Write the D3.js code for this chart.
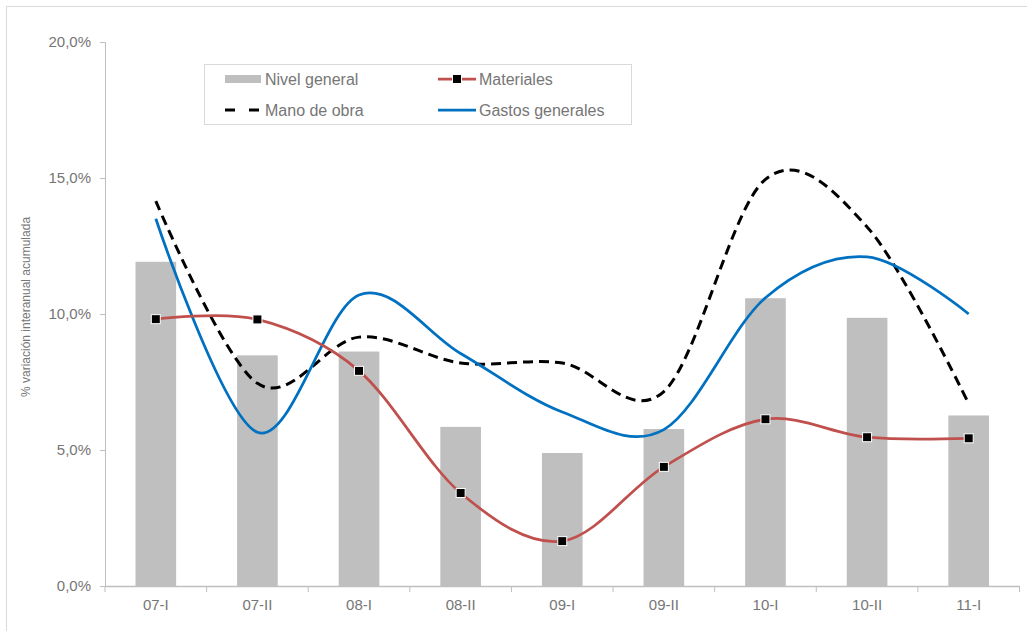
<!DOCTYPE html>
<html>
<head>
<meta charset="utf-8">
<script src="https://cdn.jsdelivr.net/npm/d3@7"></script>
<style>
  html, body { margin: 0; padding: 0; background: #fff; }
  svg { display: block; font-family: "Liberation Sans", Arial, sans-serif; }
</style>
</head>
<body>
<svg id="chart" width="1027" height="631"></svg>
<script>
const categories = ["07-I", "07-II", "08-I", "08-II", "09-I", "09-II", "10-I", "10-II", "11-I"];
const nivelGeneral = [11.92, 8.48, 8.62, 5.85, 4.89, 5.77, 10.58, 9.86, 6.27];
const materiales = [9.81, 9.80, 7.91, 3.42, 1.65, 4.38, 6.13, 5.47, 5.43];
const manoDeObra = [14.15, 7.45, 9.15, 8.2, 8.2, 7.15, 14.95, 13.2, 6.7];
const gastosGenerales = [13.5, 5.65, 10.7, 8.55, 6.4, 5.75, 10.6, 12.1, 10.0];
const yTicks = [0, 5, 10, 15, 20];
const yTitle = "% variación interanual acumulada";
const legendLabels = ["Nivel general", "Materiales", "Mano de obra", "Gastos generales"];

const svg = d3.select("#chart");
const M = { left: 105, right: 1019.5, top: 42, bottom: 586 };
const axisColor = "#bfbfbf";
const textColor = "#767676";

// chart frame (only top/left visible)
svg.append("rect").attr("x", 6.5).attr("y", 6.5).attr("width", 1040).attr("height", 640)
  .attr("fill", "none").attr("stroke", "#d9d9d9").attr("stroke-width", 1);

const x = d3.scaleBand().domain(categories).range([M.left, M.right]).padding(0);
const y = d3.scaleLinear().domain([0, 20]).range([M.bottom, M.top]);
const cx = c => x(c) + x.bandwidth() / 2;

// y axis
const yAxis = d3.axisLeft(y).tickValues(yTicks).tickSize(5).tickPadding(9)
  .tickFormat(d => d3.format(".1f")(d).replace(".", ",") + "%");
const gy = svg.append("g").attr("transform", `translate(${M.left},0)`).call(yAxis);
gy.select(".domain").attr("stroke", axisColor);
gy.selectAll(".tick line").attr("stroke", axisColor);
gy.selectAll(".tick text").attr("fill", textColor).attr("font-size", 15);

// bars
const barW = x.bandwidth() * 0.4;
svg.append("g").selectAll("rect").data(categories).join("rect")
  .attr("x", (c) => cx(c) - barW / 2)
  .attr("y", (c, i) => y(nivelGeneral[i]))
  .attr("width", barW)
  .attr("height", (c, i) => y(0) - y(nivelGeneral[i]))
  .attr("fill", "#bfbfbf");

// x axis
const xAxis = d3.axisBottom(x).tickSize(0).tickPadding(13);
const gx = svg.append("g").attr("transform", `translate(0,${M.bottom})`).call(xAxis);
gx.select(".domain").attr("stroke", axisColor).attr("stroke-width", 1.5);
gx.selectAll(".tick text").attr("fill", textColor).attr("font-size", 15);
// category boundary ticks
const bounds = categories.map(c => x(c)).concat([M.right]);
gx.selectAll(".bt").data(bounds).join("line").attr("class", "bt")
  .attr("x1", d => d).attr("x2", d => d).attr("y1", 0).attr("y2", 6)
  .attr("stroke", axisColor);

// y title
svg.append("text")
  .attr("transform", `translate(29.5,307) rotate(-90)`)
  .attr("text-anchor", "middle").attr("fill", textColor).attr("font-size", 12)
  .text(yTitle);

const line = d3.line().curve(d3.curveCardinal.tension(0))
  .x((d, i) => cx(categories[i])).y(d => y(d));

svg.append("path").datum(manoDeObra).attr("d", line)
  .attr("fill", "none").attr("stroke", "#000").attr("stroke-width", 3).attr("stroke-dasharray", "10,6");
svg.append("path").datum(gastosGenerales).attr("d", line)
  .attr("fill", "none").attr("stroke", "#0070c0").attr("stroke-width", 2.75);
svg.append("path").datum(materiales).attr("d", line)
  .attr("fill", "none").attr("stroke", "#c0504d").attr("stroke-width", 2.75);
svg.append("g").selectAll("rect").data(materiales).join("rect")
  .attr("x", (d, i) => cx(categories[i]) - 4.5)
  .attr("y", d => y(d) - 4.5)
  .attr("width", 9).attr("height", 9)
  .attr("fill", "#000").attr("stroke", "#fff").attr("stroke-width", 1);

// legend
const lg = svg.append("g");
lg.append("rect").attr("x", 204.5).attr("y", 64.5).attr("width", 427).attr("height", 60)
  .attr("fill", "#fff").attr("stroke", "#d9d9d9");
const lx1 = 225, lx2 = 438, ly1 = 79, ly2 = 110;
lg.append("rect").attr("x", lx1).attr("y", ly1 - 4).attr("width", 36).attr("height", 8).attr("fill", "#bfbfbf");
lg.append("line").attr("x1", lx2).attr("x2", lx2 + 38).attr("y1", ly1).attr("y2", ly1)
  .attr("stroke", "#c0504d").attr("stroke-width", 2.75);
lg.append("rect").attr("x", lx2 + 19 - 4.5).attr("y", ly1 - 4.5).attr("width", 9).attr("height", 9)
  .attr("fill", "#000").attr("stroke", "#fff");
lg.append("line").attr("x1", lx1).attr("x2", lx1 + 34).attr("y1", ly2).attr("y2", ly2)
  .attr("stroke", "#000").attr("stroke-width", 3).attr("stroke-dasharray", "10,14");
lg.append("line").attr("x1", lx2).attr("x2", lx2 + 38).attr("y1", ly2).attr("y2", ly2)
  .attr("stroke", "#0070c0").attr("stroke-width", 2.75);
const legPos = [[lx1 + 40, ly1], [lx2 + 41, ly1], [lx1 + 40, ly2], [lx2 + 41, ly2]];
lg.selectAll("text.leg").data(legendLabels).join("text").attr("class", "leg")
  .attr("x", (d, i) => legPos[i][0]).attr("y", (d, i) => legPos[i][1])
  .attr("dy", "0.35em").attr("fill", textColor).attr("font-size", 16)
  .text(d => d);
</script>
</body>
</html>
